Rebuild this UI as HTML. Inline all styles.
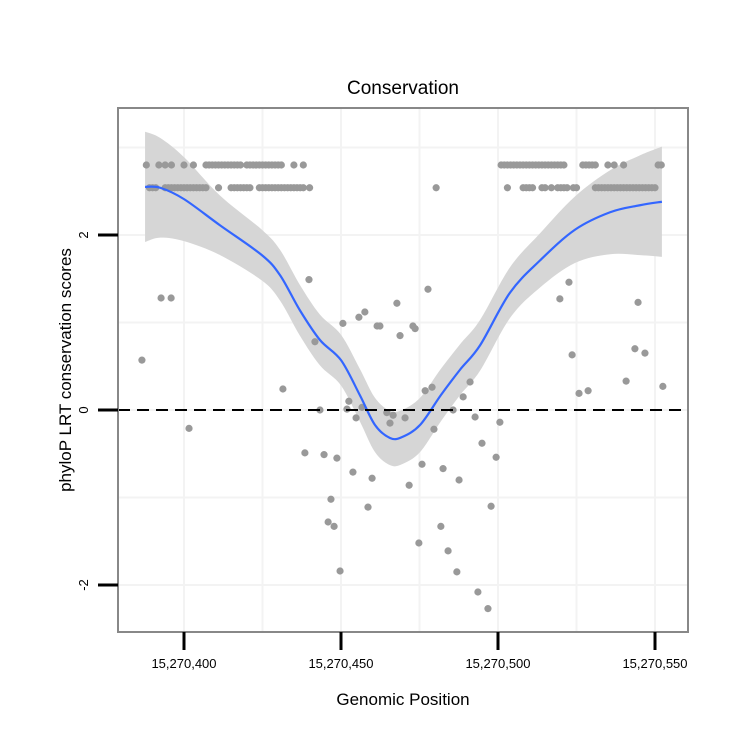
<!DOCTYPE html>
<html><head><meta charset="utf-8"><style>
body{margin:0;background:#fff}
svg{display:block;font-family:"Liberation Sans",Arial,sans-serif}
</style></head><body>
<svg id="chart" width="750" height="750">
<rect width="750" height="750" fill="#fff"/>
<g id="grid"></g><g id="ribbon"></g><g id="pts"></g><g id="line"></g><g id="axes"></g>
<text x="403" y="94" text-anchor="middle" font-size="19">Conservation</text>
<text x="403" y="705" text-anchor="middle" font-size="17">Genomic Position</text>
<text transform="translate(71,370) rotate(-90)" text-anchor="middle" font-size="17">phyloP LRT conservation scores</text>
</svg>
<script>
const BASE = 15270000;
const xTicks = [400,450,500,550];
const xTickLabels = ["15,270,400","15,270,450","15,270,500","15,270,550"];
const yTicks = [-2,0,2];
const yTickLabels = ["-2","0","2"];
const xGrid = [400,425,450,475,500,525,550];
const yGrid = [-2,-1,0,1,2,3];
const row1Pos = [388,392,394,396,400,403,407,408,409,410,411,412,413,414,415,416,417,418,420,421,422,423,424,425,426,427,428,429,430,431,435,438,
 501,502,503,504,505,506,507,508,509,510,511,512,513,514,515,516,517,518,519,520,521,527,528,529,530,531,535,537,540,551,552];
const row1Val = 2.8;
const row2Pos = [389,390,391,394,395,396,397,398,399,400,401,402,403,404,405,406,407,411,415,416,417,418,419,420,421,424,425,426,427,428,429,430,431,432,433,434,435,436,437,438,440,
 503,508,509,510,511,514,515,517,519,520,521,522,524,525,531,532,533,534,535,536,537,538,539,540,541,542,543,544,545,546,547,548,549,550];
const row2Val = 2.54;
const scatX = [439.8,477.7,467.8,457.6,455.7,450.6,461.5,462.4,472.9,473.6,468.8,441.7,431.5,476.8,479.0,491.1,488.9,452.5,443.3,451.9,456.7,454.8,464.6,466.6,465.6,470.4,485.7,492.7,500.6,479.6,494.9,499.4,438.5,444.6,448.7,453.8,459.9,471.7,475.8,482.5,487.6,446.8,458.6,497.8,445.9,447.8,481.8,474.8,484.1,486.9,449.7,493.6,496.8,386.6,392.7,395.9,401.6,480.3,522.6,519.7,523.6,525.8,528.7,540.8,544.6,543.6,546.8,552.5];
const scatY = [1.49,1.38,1.22,1.12,1.06,0.99,0.96,0.96,0.96,0.93,0.85,0.78,0.24,0.22,0.26,0.32,0.15,0.10,0.0,0.01,0.03,-0.09,-0.03,-0.06,-0.15,-0.09,0,-0.08,-0.14,-0.22,-0.38,-0.54,-0.49,-0.51,-0.55,-0.71,-0.78,-0.86,-0.62,-0.67,-0.80,-1.02,-1.11,-1.10,-1.28,-1.33,-1.33,-1.52,-1.61,-1.85,-1.84,-2.08,-2.27,0.57,1.28,1.28,-0.21,2.54,1.46,1.27,0.63,0.19,0.22,0.33,1.23,0.70,0.65,0.27];
const fitX = [387.6,392.4,400,411.5,424.8,430.6,436.9,443.3,450,456,460.8,465.6,469.4,475.2,481.8,487.9,494.3,503.8,513.4,524.5,535.7,545.2,552.2];
const fitY = [2.55,2.54,2.41,2.11,1.77,1.54,1.14,0.80,0.57,0.17,-0.17,-0.32,-0.31,-0.17,0.17,0.46,0.74,1.34,1.71,2.06,2.26,2.34,2.38];
const fitSE = [0.63,0.57,0.48,0.34,0.29,0.29,0.29,0.29,0.29,0.30,0.31,0.31,0.31,0.31,0.30,0.29,0.29,0.29,0.31,0.38,0.48,0.57,0.63];

const NS='http://www.w3.org/2000/svg';
const L=118,R=688,T=108,B=632;
const xs=v=>184+(v-400)*3.14;
const ys=v=>410-v*87.5;
function mk(tag,attrs,parent){const e=document.createElementNS(NS,tag);for(const k in attrs)e.setAttribute(k,attrs[k]);document.getElementById(parent).appendChild(e);return e;}
function smooth(p){let d='M'+p[0][0]+','+p[0][1];
 for(let i=0;i<p.length-1;i++){const p0=p[i-1]||p[i],p1=p[i],p2=p[i+1],p3=p[i+2]||p2;
  const c1=[p1[0]+(p2[0]-p0[0])/6,p1[1]+(p2[1]-p0[1])/6],c2=[p2[0]-(p3[0]-p1[0])/6,p2[1]-(p3[1]-p1[1])/6];
  d+=' C'+c1[0]+','+c1[1]+' '+c2[0]+','+c2[1]+' '+p2[0]+','+p2[1];}
 return d;}

xGrid.forEach(v=>{const e=mk('line',{x1:xs(v),x2:xs(v),y1:T,y2:B,stroke:'#f3f3f3','stroke-width':2},'grid');

});
yGrid.forEach(v=>{const e=mk('line',{x1:L,x2:R,y1:ys(v),y2:ys(v),stroke:'#f3f3f3','stroke-width':2},'grid');

});

const upP=fitX.map((x,i)=>[xs(x),ys(fitY[i]+fitSE[i])]);
const loP=fitX.map((x,i)=>[xs(x),ys(fitY[i]-fitSE[i])]).reverse();
const ribD=smooth(upP)+' L'+smooth(loP).slice(1)+' Z';
const rib=mk('path',{d:ribD,fill:'#d6d6d6'},'ribbon');



function dot(x,y){const c=mk('circle',{cx:xs(x),cy:ys(y),r:3.6,fill:'#999'},'pts');

}
row1Pos.forEach(p=>dot(p,row1Val));
row2Pos.forEach(p=>dot(p,row2Val));
scatX.forEach((x,i)=>dot(x,scatY[i]));

const ln=mk('path',{d:smooth(fitX.map((x,i)=>[xs(x),ys(fitY[i])])),fill:'none',stroke:'#3366FF','stroke-width':2.2},'line');



const z=mk('line',{x1:L,x2:R,y1:ys(0),y2:ys(0),stroke:'#000','stroke-width':2,'stroke-dasharray':'12,7'},'axes');


const fr=mk('rect',{x:L,y:T,width:R-L,height:B-T,fill:'none',stroke:'#888','stroke-width':2},'axes');



xTicks.forEach((v,i)=>{const t=mk('line',{x1:xs(v),x2:xs(v),y1:B,y2:650,stroke:'#000','stroke-width':3},'axes');


const l=mk('text',{x:xs(v),y:668,'text-anchor':'middle','font-size':13},'axes');l.textContent=xTickLabels[i];

});
yTicks.forEach((v,i)=>{const t=mk('line',{x1:98,x2:L,y1:ys(v),y2:ys(v),stroke:'#000','stroke-width':3},'axes');


const l=mk('text',{transform:'translate(88,'+ys(v)+') rotate(-90)','text-anchor':'middle','font-size':13},'axes');l.textContent=yTickLabels[i];

});
</script>
</body></html>
